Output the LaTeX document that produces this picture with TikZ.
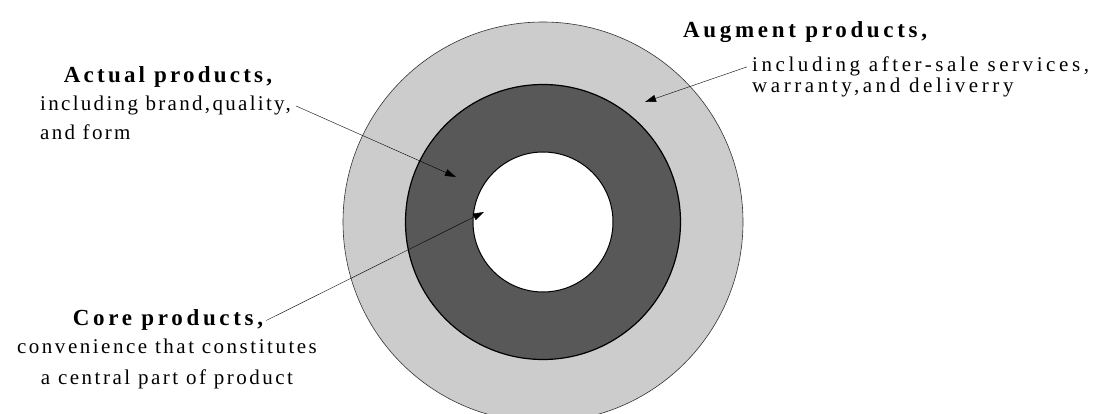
\documentclass[tikz,border=0pt]{standalone}
\usepackage{fontspec}
\setmainfont{Liberation Serif}
\usetikzlibrary{arrows.meta, positioning}
\definecolor{ringlight}{RGB}{204, 204, 204}
\definecolor{ringdark}{RGB}{88, 88, 88}

\begin{document}
\begin{tikzpicture}[x=1pt, y=-1pt, >={Triangle[length=11pt, width=7pt]},
  ring/.style={circle, draw, inner sep=0pt},
  head/.style={inner sep=0pt, font=\fontsize{23}{25}\selectfont\bfseries\addfontfeature{LetterSpace=#1}},
  head/.default=15,
  body/.style={inner sep=0pt, anchor=base west, font=\fontsize{21}{23}\selectfont\addfontfeature{LetterSpace=#1}},
  body/.default=11]
  \useasboundingbox (0,0) rectangle (1109,414);
  \node[ring, fill=ringlight, draw=black!80, line width=0.6pt, minimum size=400pt] (outer) at (543,222) {};
  \node[ring, fill=ringdark, line width=1.2pt, minimum size=275pt] (middle) at (outer.center) {};
  \node[ring, fill=white, line width=1pt, minimum size=140pt] (inner) at (outer.center) {};
  \node[head=14, anchor=base] (acthead) at (168,83) {Actual products,};
  \node[body] (act1) at (40,111) {including brand,quality,};
  \node[body] (act2) at ([yshift=-29pt]act1.base west) {and form};
  \node[head=16, anchor=base west] (aughead) at (683,38) {Augment products,};
  \node[body=17] (aug1) at (752,72) {including after-sale services,};
  \node[body=17] (aug2) at ([yshift=-21pt]aug1.base west) {warranty,and deliverry};
  \node[head=16, anchor=base] (corehead) at (168,326) {Core products,};
  \node[body=12, anchor=base] (core1) at (167,353) {convenience that constitutes};
  \node[body=12, anchor=base] (core2) at (167,384) {a central part of product};
  \coordinate (acttip) at (456,177);
  \coordinate (augtip) at (645,102);
  \coordinate (coretip) at (484,212);
  \draw[->] ([xshift=5pt]act1.east) -- (acttip);
  \draw[->] ([xshift=-5pt]aug1.west) -- (augtip);
  \draw[->] ([xshift=3pt]corehead.east) -- (coretip);
\end{tikzpicture}
\end{document}
